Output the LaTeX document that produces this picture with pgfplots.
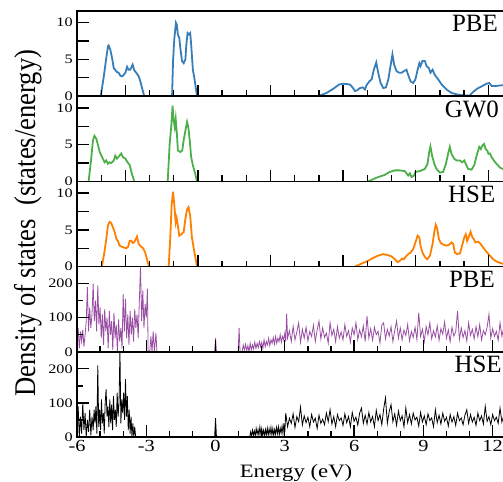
\documentclass[border=0pt]{standalone}
\usepackage{fontspec}
\setmainfont{Liberation Serif}
\usepackage{pgfplots}
\pgfplotsset{compat=1.18}
\definecolor{cblue}{RGB}{55,126,184}
\definecolor{cgreen}{RGB}{77,175,74}
\definecolor{corange}{RGB}{255,127,0}
\definecolor{cpurple}{RGB}{152,78,163}
\tikzset{lab/.style={anchor=north east, inner sep=0pt, font=\fontsize{25}{25}\selectfont}}
\pgfplotsset{
  dospanel/.style={
    scale only axis, width=508bp, height=85.2bp,
    xmax=16, ymin=0,
    axis on top,
    axis line style={line width=1.5bp},
    tick style={line width=1.3bp, black},
    major tick length=11.5bp, minor tick length=6bp,
    tick align=inside,
    xtick pos=bottom, ytick pos=left,
    yticklabel style={font=\fontsize{13}{13}\selectfont, xscale=1.25},
    xticklabel style={font=\fontsize{17}{17}\selectfont, xscale=1.2, inner sep=1bp, yshift=-2bp},
  },
  toppanel/.style={dospanel, xmin=-5, ymax=11.6,
    xtick={-3,0,3,6,9,12,15}, minor xtick={-4,-2,-1,1,2,4,5,7,8,10,11,13,14,16},
    xticklabels={},
    ytick={0,2.5,5,7.5,10}, yticklabels={0,,5,,10},
    every axis plot/.append style={line width=1.8bp}},
  botpanel/.style={dospanel, xmin=-6, ymax=250,
    xtick={-6,-3,0,3,6,9,12,15}, minor xtick={-5,-4,-2,-1,1,2,4,5,7,8,10,11,13,14,16},
    ytick={0,100,200}, minor ytick={50,150}, yticklabels={0,100,200},
    every axis plot/.append style={line width=0.8bp}},
}
\begin{document}
\begin{tikzpicture}
% Panel 1: PBE (blue)
\begin{axis}[toppanel, at={(77bp,385.8bp)}, anchor=south west]
\addplot[cblue] coordinates {(-4.02,0) (-3.90,2.5) (-3.79,5.2) (-3.72,6.8) (-3.69,6.9) (-3.62,6.3) (-3.55,5.2) (-3.48,3.8) (-3.42,3.6) (-3.35,3.3) (-3.28,3.2) (-3.21,2.8) (-3.14,2.7) (-3.07,2.9) (-3.00,3.2) (-2.93,4.0) (-2.87,3.6) (-2.80,3.6) (-2.70,4.3) (-2.63,3.5) (-2.55,3.2) (-2.45,2.7) (-2.38,2.0) (-2.31,1.1) (-2.22,0)};
\addplot[cblue] coordinates {(-1.07,0) (-1.03,4.8) (-0.98,7.7) (-0.91,10.0) (-0.87,9.7) (-0.83,8.4) (-0.77,7.9) (-0.73,6.6) (-0.66,4.8) (-0.59,4.5) (-0.52,5.0) (-0.48,7.0) (-0.43,8.6) (-0.37,8.4) (-0.32,8.6) (-0.28,7.0) (-0.21,3.6) (-0.15,2.5) (-0.10,1.4) (-0.04,0)};
\addplot[cblue] coordinates {(4.97,0) (5.32,0.45) (5.59,1.0) (5.84,1.6) (6.01,1.7) (6.28,1.6) (6.39,1.2) (6.49,0.7) (6.58,0.8) (6.69,1.1) (6.81,1.2) (6.90,0.9) (6.97,1.5) (7.08,2.0) (7.18,2.3) (7.27,3.6) (7.37,4.6) (7.45,3.2) (7.55,1.8) (7.66,1.1) (7.77,1.2) (7.87,2.3) (7.96,4.1) (8.04,5.7) (8.11,4.3) (8.21,3.4) (8.32,3.2) (8.42,3.2) (8.51,3.4) (8.62,3.6) (8.69,2.9) (8.79,2.0) (8.90,1.8) (8.99,2.3) (9.08,3.6) (9.15,4.5) (9.20,4.1) (9.28,4.8) (9.38,4.8) (9.45,4.1) (9.55,3.8) (9.61,3.2) (9.70,3.6) (9.79,2.9) (9.93,2.3) (10.07,1.6) (10.28,0.9) (10.48,0.45) (10.76,0.2) (11.03,0.1) (11.24,0.1) (11.38,0.6) (11.58,1.1) (11.76,1.4) (11.93,1.7) (12.04,1.8) (12.14,1.4) (12.34,1.4) (12.60,1.5) (13.0,1.5)};
\node[lab] at (axis cs:12.4,11.05) {PBE};
\end{axis}
% Panel 2: GW0 (green)
\begin{axis}[toppanel, at={(77bp,300.6bp)}, anchor=south west]
\addplot[cgreen] coordinates {(-4.52,0) (-4.42,2.85) (-4.34,5.6) (-4.28,6.2) (-4.20,5.8) (-4.13,4.9) (-4.06,4.0) (-3.99,3.5) (-3.93,3.1) (-3.86,2.6) (-3.79,2.85) (-3.72,2.4) (-3.65,2.6) (-3.58,2.5) (-3.48,2.85) (-3.42,3.5) (-3.35,3.1) (-3.24,3.5) (-3.17,3.8) (-3.10,3.3) (-3.00,3.1) (-2.91,2.6) (-2.82,2.2) (-2.73,1.0) (-2.63,0)};
\addplot[cgreen] coordinates {(-1.25,0) (-1.17,5.1) (-1.10,7.6) (-1.05,10.3) (-1.01,8.5) (-0.96,7.4) (-0.92,8.5) (-0.87,6.5) (-0.83,4.2) (-0.73,4.0) (-0.65,4.2) (-0.59,5.6) (-0.52,6.9) (-0.45,8.1) (-0.40,7.4) (-0.34,5.6) (-0.28,3.3) (-0.21,2.2) (-0.11,1.0) (-0.04,0)};
\addplot[cgreen] coordinates {(7.04,0) (7.38,0.5) (7.73,0.9) (7.93,1.3) (8.14,1.5) (8.35,1.5) (8.55,1.4) (8.69,0.8) (8.76,1.1) (8.83,0.6) (8.93,0.8) (8.99,1.3) (9.17,1.4) (9.38,1.7) (9.49,2.4) (9.56,4.0) (9.61,4.75) (9.68,3.5) (9.77,2.4) (9.86,1.7) (10.00,1.2) (10.14,1.3) (10.25,2.4) (10.34,3.75) (10.41,4.7) (10.48,3.75) (10.59,3.1) (10.69,2.85) (10.83,2.85) (10.92,2.6) (11.01,2.85) (11.07,2.4) (11.17,1.7) (11.31,1.6) (11.42,2.2) (11.52,3.5) (11.63,4.7) (11.69,4.4) (11.76,4.9) (11.83,5.1) (11.89,4.4) (11.96,4.2) (12.01,3.75) (12.07,3.8) (12.14,3.3) (12.23,2.85) (12.34,2.4) (12.48,1.9) (12.60,1.7) (13.0,1.2)};
\node[lab] at (axis cs:12.45,11.05) {GW0};
\end{axis}
% Panel 3: HSE (orange)
\begin{axis}[toppanel, at={(77bp,215.4bp)}, anchor=south west]
\addplot[corange] coordinates {(-3.97,0) (-3.87,1.9) (-3.79,3.75) (-3.72,5.6) (-3.65,6.1) (-3.58,5.9) (-3.51,5.3) (-3.44,4.7) (-3.37,3.75) (-3.31,3.5) (-3.24,2.85) (-3.14,2.7) (-3.07,2.6) (-2.96,2.5) (-2.89,2.7) (-2.82,3.5) (-2.75,3.5) (-2.69,3.2) (-2.62,3.4) (-2.52,4.1) (-2.45,3.1) (-2.38,2.8) (-2.27,2.5) (-2.18,1.9) (-2.11,1.0) (-2.02,0)};
\addplot[corange] coordinates {(-1.21,0) (-1.14,4.2) (-1.09,8.3) (-1.03,10.2) (-0.98,8.5) (-0.92,6.0) (-0.88,6.6) (-0.84,5.8) (-0.77,4.2) (-0.69,4.4) (-0.59,4.7) (-0.52,6.5) (-0.45,7.8) (-0.39,8.1) (-0.32,6.9) (-0.25,4.0) (-0.18,2.6) (-0.11,1.3) (-0.04,0)};
\addplot[corange] coordinates {(6.49,0) (6.76,0.4) (7.04,0.8) (7.25,1.2) (7.45,1.5) (7.66,1.7) (7.82,1.6) (8.00,1.4) (8.14,1.0) (8.25,0.6) (8.35,0.8) (8.44,1.1) (8.51,1.0) (8.60,1.4) (8.69,1.7) (8.79,1.9) (8.90,2.4) (8.99,3.3) (9.08,4.2) (9.15,4.0) (9.20,2.85) (9.28,1.9) (9.38,1.3) (9.48,1.0) (9.59,1.5) (9.70,3.1) (9.77,4.7) (9.83,5.7) (9.89,5.2) (9.96,3.75) (10.04,3.2) (10.14,3.0) (10.28,2.85) (10.39,3.0) (10.48,3.3) (10.55,3.1) (10.62,1.9) (10.72,1.7) (10.83,1.8) (10.92,2.85) (11.01,4.0) (11.07,4.4) (11.13,3.5) (11.20,4.1) (11.27,4.75) (11.34,4.0) (11.40,3.75) (11.47,3.3) (11.58,3.4) (11.68,3.1) (11.79,2.6) (11.93,2.0) (12.07,1.5) (12.20,1.0) (12.34,0.7) (12.48,0.5) (12.60,0.4) (13.0,0.3)};
\node[lab] at (axis cs:12.3,11.05) {HSE};
\end{axis}
% Panel 4: PBE (purple)
\begin{axis}[botpanel, at={(77bp,130.2bp)}, anchor=south west, xticklabels={}]
\addplot[cpurple] coordinates {(-6.00,40) (-5.95,70) (-5.90,10) (-5.85,60) (-5.80,30) (-5.75,65) (-5.70,15) (-5.65,50) (-5.60,90) (-5.55,190) (-5.50,60) (-5.45,130) (-5.40,70) (-5.35,110) (-5.30,200) (-5.25,90) (-5.20,150) (-5.15,60) (-5.10,195) (-5.05,80) (-5.00,130) (-4.95,40) (-4.90,110) (-4.85,20) (-4.80,125) (-4.75,60) (-4.70,100) (-4.65,10) (-4.60,120) (-4.55,50) (-4.50,90) (-4.45,5) (-4.40,115) (-4.35,40) (-4.30,80) (-4.25,0) (-4.20,95) (-4.15,30) (-4.10,70) (-4.05,10) (-4.00,170) (-3.95,60) (-3.90,155) (-3.85,40) (-3.80,110) (-3.75,20) (-3.70,120) (-3.65,50) (-3.60,100) (-3.55,30) (-3.50,125) (-3.45,70) (-3.40,110) (-3.35,40) (-3.30,150) (-3.25,248) (-3.20,90) (-3.15,180) (-3.10,70) (-3.05,140) (-3.00,100) (-2.95,185) (-2.92,0)};
\addplot[cpurple] coordinates {(-2.85,0) (-2.80,45) (-2.75,0) (-2.70,60) (-2.65,0) (-2.58,55) (-2.54,0)};
\addplot[cpurple] coordinates {(-0.04,0) (0,40) (0.04,0)};
\addplot[cpurple] coordinates {(0.98,0) (1.02,70) (1.06,0) (1.15,0) (1.20,20) (1.25,5) (1.30,22) (1.35,3) (1.40,18) (1.45,0) (1.50,25) (1.55,5) (1.60,20) (1.65,8) (1.70,28) (1.75,10) (1.80,25) (1.85,12) (1.90,30) (1.95,15) (2.00,28) (2.05,10) (2.10,35) (2.15,15) (2.20,30) (2.25,20) (2.30,40) (2.35,18) (2.40,35) (2.45,25) (2.50,42) (2.55,22) (2.60,45) (2.65,25) (2.70,40) (2.75,30) (2.80,50) (2.85,28) (2.90,45) (2.95,35) (3.00,55) (3.04,30) (3.08,112) (3.12,40) (3.20,62) (3.28,30) (3.36,75) (3.44,35) (3.52,58) (3.60,85) (3.68,28) (3.76,66) (3.84,40) (3.92,72) (4.00,32) (4.08,60) (4.16,45) (4.24,78) (4.32,30) (4.40,64) (4.48,90) (4.56,38) (4.64,70) (4.72,42) (4.80,55) (4.88,25) (4.96,85) (5.04,48) (5.12,66) (5.20,30) (5.28,74) (5.36,40) (5.44,58) (5.52,35) (5.60,80) (5.68,45) (5.76,62) (5.84,28) (5.92,70) (6.00,50) (6.08,85) (6.16,36) (6.24,64) (6.32,44) (6.40,76) (6.48,30) (6.56,105) (6.64,40) (6.72,68) (6.80,34) (6.88,72) (6.96,50) (7.04,60) (7.12,26) (7.20,78) (7.28,85) (7.36,38) (7.44,66) (7.52,46) (7.60,74) (7.68,30) (7.76,62) (7.84,90) (7.92,40) (8.00,70) (8.08,35) (8.16,64) (8.24,48) (8.32,80) (8.40,32) (8.48,60) (8.56,42) (8.64,72) (8.72,36) (8.80,115) (8.88,45) (8.96,66) (9.04,30) (9.12,74) (9.20,50) (9.28,85) (9.36,38) (9.44,62) (9.52,44) (9.60,76) (9.68,34) (9.76,68) (9.84,52) (9.92,88) (10.00,40) (10.08,64) (10.16,30) (10.24,72) (10.32,46) (10.40,58) (10.48,120) (10.56,36) (10.64,70) (10.72,42) (10.80,62) (10.88,32) (10.96,85) (11.04,48) (11.12,66) (11.20,38) (11.28,74) (11.36,44) (11.44,80) (11.52,35) (11.60,62) (11.68,50) (11.76,72) (11.84,110) (11.92,40) (12.00,68) (12.08,45) (12.16,60) (12.24,34) (12.32,85) (12.40,46) (12.48,70) (12.56,38) (12.64,66) (12.72,52)};
\node[lab] at (axis cs:12.1,238) {PBE};
\end{axis}
% Panel 5: HSE (black)
\begin{axis}[botpanel, at={(77bp,45bp)}, anchor=south west, xticklabels={-6,-3,0,3,6,9,12,15}]
\addplot[black] coordinates {(-6.00,30) (-5.95,90) (-5.90,0) (-5.85,60) (-5.80,10) (-5.75,100) (-5.70,20) (-5.65,70) (-5.60,0) (-5.55,50) (-5.50,15) (-5.45,80) (-5.40,5) (-5.35,60) (-5.30,20) (-5.26,80) (-5.22,40) (-5.18,90) (-5.14,10) (-5.10,210) (-5.06,30) (-5.02,80) (-4.98,20) (-4.94,110) (-4.90,40) (-4.86,70) (-4.82,10) (-4.78,100) (-4.74,140) (-4.70,60) (-4.66,90) (-4.62,30) (-4.58,110) (-4.54,40) (-4.50,95) (-4.46,20) (-4.42,120) (-4.38,50) (-4.34,80) (-4.30,30) (-4.26,130) (-4.22,60) (-4.18,100) (-4.14,255) (-4.10,40) (-4.06,110) (-4.02,70) (-3.98,130) (-3.94,50) (-3.90,170) (-3.86,60) (-3.82,120) (-3.78,20) (-3.74,80) (-3.70,10) (-3.66,60) (-3.62,0) (-3.58,40) (-3.54,0) (-3.50,30) (-3.46,0)};
\addplot[black] coordinates {(-0.04,0) (0,55) (0.04,0)};
\addplot[black] coordinates {(1.48,0) (1.52,15) (1.56,2) (1.60,20) (1.64,5) (1.68,18) (1.72,3) (1.76,25) (1.80,8) (1.84,22) (1.88,5) (1.92,30) (1.96,10) (2.00,25) (2.04,5) (2.08,20) (2.12,4) (2.16,22) (2.20,6) (2.24,26) (2.28,5) (2.32,24) (2.36,8) (2.40,28) (2.44,6) (2.48,25) (2.52,4) (2.56,22) (2.60,8) (2.64,28) (2.68,10) (2.72,30) (2.76,6) (2.80,26) (2.84,12) (2.88,32) (2.92,10) (2.96,40) (3.00,15) (3.04,70) (3.12,30) (3.20,55) (3.28,40) (3.36,68) (3.44,28) (3.52,60) (3.60,45) (3.68,88) (3.76,35) (3.84,62) (3.92,42) (4.00,58) (4.08,30) (4.16,66) (4.24,44) (4.32,55) (4.40,25) (4.48,64) (4.56,40) (4.64,52) (4.72,36) (4.80,70) (4.88,45) (4.96,80) (5.04,38) (5.12,60) (5.20,30) (5.28,66) (5.36,48) (5.44,56) (5.52,34) (5.60,68) (5.68,42) (5.76,60) (5.84,30) (5.92,72) (6.00,46) (6.08,58) (6.16,35) (6.24,70) (6.32,85) (6.40,40) (6.48,64) (6.56,38) (6.64,72) (6.72,44) (6.80,60) (6.88,30) (6.96,78) (7.04,48) (7.12,66) (7.20,36) (7.28,82) (7.36,115) (7.44,40) (7.52,74) (7.60,95) (7.68,45) (7.76,68) (7.84,34) (7.92,76) (8.00,48) (8.08,62) (8.16,30) (8.24,85) (8.32,42) (8.40,66) (8.48,38) (8.56,70) (8.64,50) (8.72,58) (8.80,32) (8.88,72) (8.96,44) (9.04,62) (9.12,36) (9.20,68) (9.28,48) (9.36,56) (9.44,30) (9.52,80) (9.60,42) (9.68,64) (9.76,38) (9.84,70) (9.92,46) (10.00,58) (10.08,32) (10.16,66) (10.24,44) (10.32,60) (10.40,34) (10.48,70) (10.56,48) (10.64,56) (10.72,36) (10.80,64) (10.88,80) (10.96,40) (11.04,66) (11.12,44) (11.20,58) (11.28,34) (11.36,70) (11.44,48) (11.52,62) (11.60,38) (11.68,90) (11.76,46) (11.84,60) (11.92,36) (12.00,66) (12.08,48) (12.16,58) (12.24,40) (12.32,85) (12.40,44) (12.48,62) (12.56,38) (12.64,68) (12.72,50)};
\node[lab] at (axis cs:12.4,238) {HSE};
\end{axis}
\node[rotate=90, yscale=1.13, anchor=base, inner sep=0pt, font=\fontsize{26.7}{26.7}\selectfont] at (35bp,259bp) {Density of states\ \ (states/energy)};
\node[anchor=base, inner sep=0pt, xscale=1.2, font=\fontsize{19}{19}\selectfont] at (296bp,5bp) {Energy (eV)};
\pgfresetboundingbox
\path[use as bounding box] (0,0) rectangle (503bp,482bp);
\end{tikzpicture}
\end{document}
